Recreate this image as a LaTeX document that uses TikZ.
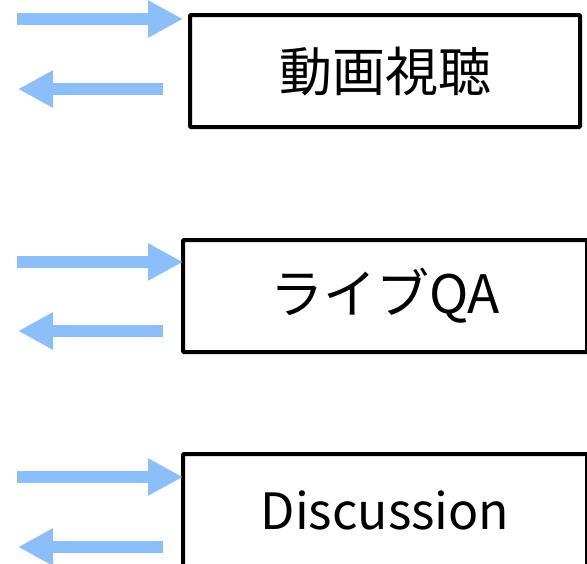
\documentclass[tikz,border=0pt]{standalone}
\usepackage{fontspec}
\setmainfont{Noto Sans CJK JP}
\usetikzlibrary{arrows.meta}
\definecolor{arrowblue}{RGB}{140,191,250}
\tikzset{
  box/.style={draw=black, line width=4pt, rounded corners=1pt, minimum height=112pt, inner sep=0pt,
    font=\fontsize{53pt}{58pt}\selectfont, text=black},
  flow/.style={draw=arrowblue, line width=12pt, -{Triangle[length=35pt,width=35pt]}, arrowblue}
}
\begin{document}
\begin{tikzpicture}[x=1pt,y=-1pt]
\useasboundingbox (0,0) rectangle (587,563);
\node[box, minimum width=390pt] (b1) at (385,71) {動画視聴};
\node[box, minimum width=404pt] (b2) at (385,296) {ライブQA};
\node[box, minimum width=404pt, font=\fontsize{50pt}{55pt}\selectfont] (b3) at (385,510) {Discussion};
% arrow end points
\coordinate (r1s) at (17,19);  \coordinate (r1e) at (183,19);
\coordinate (l1s) at (163,89); \coordinate (l1e) at (18,89);
\coordinate (r2s) at (17,262); \coordinate (r2e) at (183,262);
\coordinate (l2s) at (163,331); \coordinate (l2e) at (18,331);
\coordinate (r3s) at (17,477); \coordinate (r3e) at (183,477);
\coordinate (l3s) at (163,547); \coordinate (l3e) at (18,547);
\draw[flow] (r1s) -- (r1e);
\draw[flow] (l1s) -- (l1e);
\draw[flow] (r2s) -- (r2e);
\draw[flow] (l2s) -- (l2e);
\draw[flow] (r3s) -- (r3e);
\draw[flow] (l3s) -- (l3e);
\end{tikzpicture}
\end{document}
